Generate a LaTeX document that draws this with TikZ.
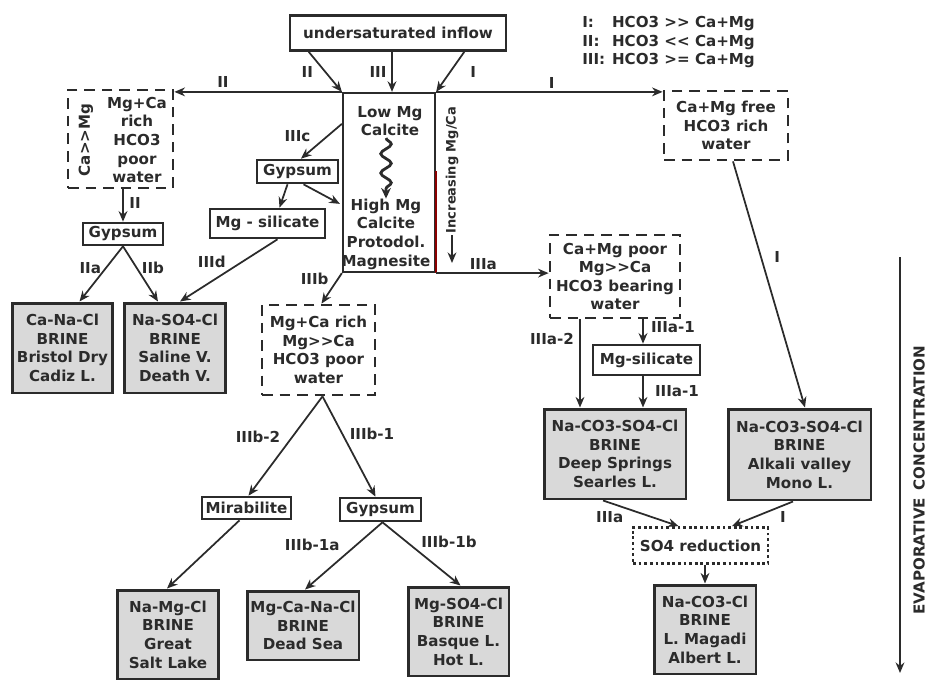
\documentclass[tikz,border=0pt]{standalone}
\usepackage{fontspec}
\setmainfont{DejaVu Sans}[Ligatures=TeXOff]
\usetikzlibrary{calc}
\usetikzlibrary{arrows.meta}
\usetikzlibrary{decorations.pathmorphing}
\usetikzlibrary{positioning}

\definecolor{ink}{HTML}{2B2B2B}

\begin{document}
\begin{tikzpicture}[
  x=0.02cm, y=-0.02cm,
  every node/.style={
    font=\fontsize{8.6}{10.6}\selectfont\bfseries, text=ink},
  mineral/.style={
    rectangle, draw=ink, line width=1.5pt, fill=white,
    align=center, inner sep=0pt},
  brine/.style={
    rectangle, draw=ink, line width=1.7pt, fill=black!15,
    align=center, inner sep=0pt},
  water/.style={
    rectangle, draw=ink, line width=1.6pt, dash pattern=on 6pt off 4pt,
    align=center, inner sep=0pt},
  reduct/.style={
    rectangle, draw=ink, line width=1.6pt, dash pattern=on 1.6pt off 1.6pt,
    align=center, inner sep=0pt},
  txt/.style={align=center, inner sep=1pt},
  lbl/.style={inner sep=0pt},
  arr/.style={-{Stealth[length=6pt, width=5pt]}, line width=1pt, draw=ink},
  squig/.style={-{Stealth[length=6pt, width=5.5pt]}, line width=1.6pt,
    draw=ink, decorate, decoration={snake, amplitude=3pt,
    segment length=11pt, post length=4pt}},
]
  \useasboundingbox (0,0) rectangle (926,686);

  % ── Inflow, legend and the carbonate column ─────────────────────────────
  \node[mineral, minimum width=4.32cm, minimum height=0.70cm]
      (inflow) at (398,33) {undersaturated inflow};
  \node[anchor=north west, inner sep=0pt] (legend) at (582,14)
      {\begin{tabular}{@{}l@{\hspace{0.45em}}l@{}}
        I:   & HCO3 >> Ca+Mg\\
        II:  & HCO3 << Ca+Mg\\
        III: & HCO3 >= Ca+Mg
       \end{tabular}};
  \node[rectangle, draw=ink, line width=1.3pt,
        minimum width=1.84cm, minimum height=3.58cm]
      (calc) at (389,182.5) {};
  \node[txt] (lowmg)  at (390,121) {Low Mg\\Calcite};
  \node[txt] (highmg) at (386,234) {High Mg\\Calcite\\Protodol.\\Magnesite};
  \draw[line width=1.3pt, draw=red!55!black]
      ($(calc.south east)+(0,-102)$) -- (calc.south east);
  \node[rotate=90, inner sep=1pt, font=\fontsize{7.4}{9}\selectfont\bfseries]
      (incr) at (452,170) {Increasing Mg/Ca};
  \coordinate (incrend) at (452,263);

  % ── II branch (left) ────────────────────────────────────────────────────
  \node[water, minimum width=2.10cm, minimum height=1.96cm]
      (caw) at (120.5,139) {};
  \node[txt] (cawtxt) at (137,140) {Mg+Ca\\rich\\HCO3\\poor\\water};
  \node[txt, rotate=90] (cawside) at (86,140) {Ca>>Mg};
  \node[mineral, minimum width=1.60cm, minimum height=0.44cm]
      (gyp1) at (123,234) {Gypsum};
  \node[brine, minimum width=2.02cm, minimum height=1.80cm]
      (cnc) at (62.5,348) {Ca-Na-Cl\\BRINE\\Bristol Dry\\Cadiz L.};
  \node[brine, minimum width=2.04cm, minimum height=1.80cm]
      (nsc) at (175,348) {Na-SO4-Cl\\BRINE\\Saline V.\\Death V.};

  % ── IIIc / IIIb branches (middle) ───────────────────────────────────────
  \node[mineral, minimum width=1.62cm, minimum height=0.46cm]
      (gyp2) at (297.5,171.5) {Gypsum};
  \node[mineral, minimum width=2.30cm, minimum height=0.58cm]
      (mgsil1) at (267.5,223.5) {Mg - silicate};
  \node[water, minimum width=2.26cm, minimum height=1.80cm]
      (mcr) at (318.5,350) {Mg+Ca rich\\Mg>>Ca\\HCO3 poor\\water};
  \node[mineral, minimum width=1.78cm, minimum height=0.44cm]
      (mirab) at (246.5,508) {Mirabilite};
  \node[mineral, minimum width=1.62cm, minimum height=0.46cm]
      (gyp3) at (380.5,509.5) {Gypsum};
  \node[brine, minimum width=2.04cm, minimum height=1.78cm]
      (nmc) at (168,634.5) {Na-Mg-Cl\\BRINE\\Great\\Salt Lake};
  \node[brine, minimum width=2.24cm, minimum height=1.38cm]
      (mcn) at (303,625.5) {Mg-Ca-Na-Cl\\BRINE\\Dead Sea};
  \node[brine, minimum width=2.02cm, minimum height=1.78cm]
      (msc) at (458.5,631.5) {Mg-SO4-Cl\\BRINE\\Basque L.\\Hot L.};

  % ── I / IIIa branches (right) ───────────────────────────────────────────
  \node[water, minimum width=2.48cm, minimum height=1.38cm]
      (cmf) at (726,125.5) {Ca+Mg free\\HCO3 rich\\water};
  \node[water, minimum width=2.60cm, minimum height=1.66cm]
      (cmp) at (615,276.5) {Ca+Mg poor\\Mg>>Ca\\HCO3 bearing\\water};
  \node[mineral, minimum width=2.14cm, minimum height=0.60cm]
      (mgsil2) at (646.5,360) {Mg-silicate};
  \node[brine, minimum width=2.84cm, minimum height=1.80cm]
      (nss) at (615,454) {Na-CO3-SO4-Cl\\BRINE\\Deep Springs\\Searles L.};
  \node[brine, minimum width=2.86cm, minimum height=1.82cm]
      (ncs2) at (799.5,454.5) {Na-CO3-SO4-Cl\\BRINE\\Alkali valley\\Mono L.};
  \node[reduct, minimum width=2.70cm, minimum height=0.72cm]
      (so4) at (700.5,545.5) {SO4 reduction};
  \node[brine, minimum width=2.04cm, minimum height=1.78cm]
      (ncc) at (705,629.5) {Na-CO3-Cl\\BRINE\\L. Magadi\\Albert L.};

  % ── Evaporation axis ────────────────────────────────────────────────────
  \coordinate (evtop) at (900,257);
  \coordinate (evbot) at (900,673);
  \node[rotate=90, inner sep=0pt] (evap) at (919,480)
      {EVAPORATIVE\enspace CONCENTRATION};

  % ── Inflow arrows ───────────────────────────────────────────────────────
  \draw[arr] ($(inflow.south west)+(20,0)$) --
      node[lbl, shift={(-18,0)}]{II} (calc.north west);
  \draw[arr] ($(inflow.south)+(-6,0)$) --
      node[lbl, shift={(-14,0)}]{III} ($(calc.north)+(3,0)$);
  \draw[arr] ($(inflow.south east)+(-43,0)$) --
      node[lbl, shift={(23,0)}]{I} (calc.north east);

  % ── Column exits ────────────────────────────────────────────────────────
  \draw[arr] (calc.north west) --
      node[lbl, pos=.71, shift={(0,-10)}]{II} (calc.north west -| caw.east);
  \draw[arr] (calc.north east) --
      node[lbl, pos=.51, shift={(0,-9)}]{I} (calc.north east -| cmf.west);
  \draw[arr] (calc.south east) --
      node[lbl, pos=.42, shift={(0,-9)}]{IIIa} (calc.south east -| cmp.west);
  \draw[arr] ($(calc.north west)+(0,32)$) --
      node[lbl, shift={(-24,-5.5)}]{IIIc} ($(gyp2.north)+(3.5,0)$);
  \draw[arr] (calc.south west) --
      node[lbl, shift={(-17,-9.5)}]{IIIb} ($(mcr.north)+(3,0)$);
  \draw[arr] (incr.west) -- (incrend);
  \draw[squig] ($(lowmg.south)+(-4,0)$) -- ($(highmg.north)+(0,2)$);

  % ── II branch ───────────────────────────────────────────────────────────
  \draw[arr] (gyp1.north |- caw.south) --
      node[lbl, shift={(12,-3)}]{II} (gyp1.north);
  \draw[arr] (gyp1.south) --
      node[lbl, shift={(-11,-6)}]{IIa} ($(cnc.north)+(17,0)$);
  \draw[arr] (gyp1.south) --
      node[lbl, shift={(12.5,-6)}]{IIb} ($(nsc.north)+(-17,0)$);

  % ── IIIc branch ─────────────────────────────────────────────────────────
  \draw[arr] ($(gyp2.south)+(-10,0)$) -- ($(mgsil1.north)+(12,0)$);
  \draw[arr] ($(gyp2.south)+(6,0)$) -- ($(calc.north west)+(-2,112)$);
  \draw[arr] ($(mgsil1.south)+(10,0)$) --
      node[lbl, shift={(-17,-8.5)}]{IIId} ($(nsc.north)+(5,0)$);

  % ── IIIb branch ─────────────────────────────────────────────────────────
  \draw[arr] ($(mcr.south)+(4,0)$) --
      node[lbl, shift={(-27.5,-9)}]{IIIb-2} ($(mirab.north)+(2,0)$);
  \draw[arr] ($(mcr.south)+(4,0)$) --
      node[lbl, shift={(23,-12.5)}]{IIIb-1} ($(gyp3.north)+(-5,0)$);
  \draw[arr] ($(mirab.south)+(-7,0)$) -- ($(nmc.north)+(-1,0)$);
  \draw[arr] ($(gyp3.south)+(2,0)$) --
      node[lbl, shift={(-31.5,-11)}]{IIIb-1a} ($(mcn.north)+(2,0)$);
  \draw[arr] ($(gyp3.south)+(2,0)$) --
      node[lbl, shift={(27.5,-12)}]{IIIb-1b} ($(msc.north)+(2,0)$);

  % ── I and IIIa branches ─────────────────────────────────────────────────
  \draw[arr] ($(cmf.south)+(7,0)$) --
      node[lbl, pos=.39, shift={(16,0)}]{I} ($(ncs2.north)+(5.5,0)$);
  \draw[arr] ($(cmp.south)+(-35,0)$) --
      node[lbl, pos=.22, shift={(-28,0)}]{IIIa-2} ($(nss.north)+(-35,0)$);
  \draw[arr] ($(cmp.south)+(28,0)$) --
      node[lbl, shift={(30,-4.5)}]{IIIa-1} ($(mgsil2.north)+(-3.5,0)$);
  \draw[arr] ($(mgsil2.south)+(-3.5,0)$) --
      node[lbl, shift={(34,-1)}]{IIIa-1} ($(nss.north)+(28,0)$);
  \draw[arr] ($(nss.south)+(-12,0)$) --
      node[lbl, shift={(-31,3.5)}]{IIIa} ($(so4.north)+(-22,0)$);
  \draw[arr] ($(ncs2.south)+(-6.5,0)$) --
      node[lbl, shift={(20.5,3)}]{I} ($(so4.north)+(31.5,0)$);
  \draw[arr] (so4.south -| ncc.north) -- (ncc.north);

  \draw[arr] (evtop) -- (evbot);

\end{tikzpicture}
\end{document}
